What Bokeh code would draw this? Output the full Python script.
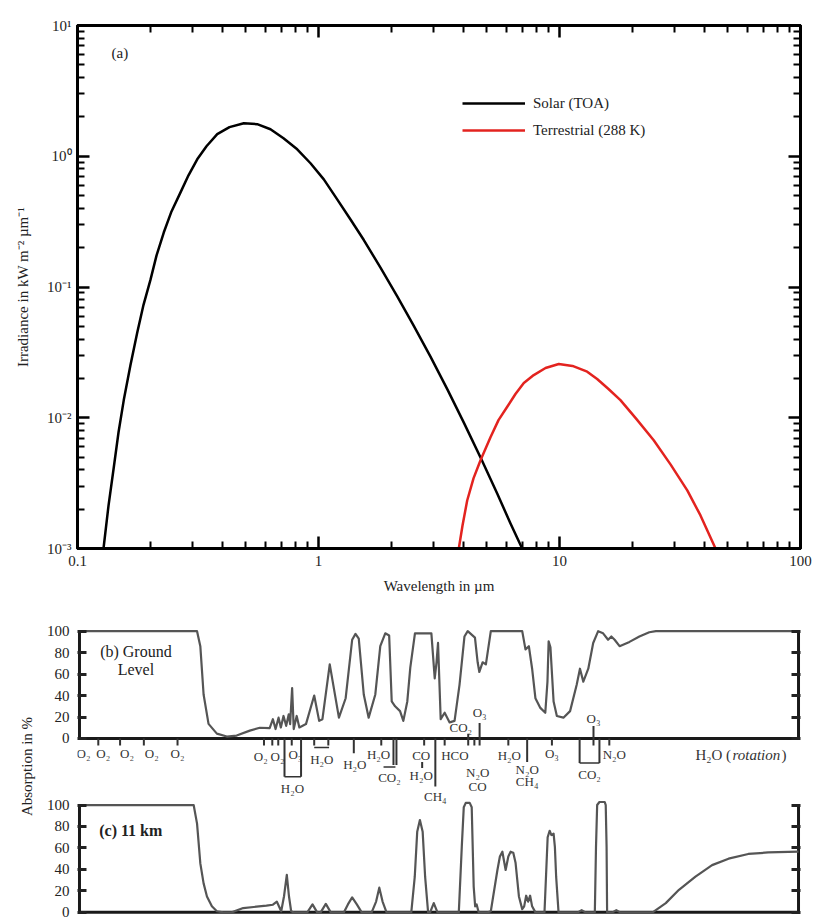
from bokeh.plotting import figure
from bokeh.models import (ColumnDataSource, FixedTicker, LogAxis, LinearAxis,
                          Legend, LegendItem, Range1d, Label)
from bokeh.layouts import column
from bokeh.embed import file_html
from bokeh.resources import INLINE
from bokeh.core.properties import value

SERIF = "Liberation Serif"

# ---------------- Panel (a) data ----------------
solar_wavelength = [0.1282, 0.1345, 0.1415, 0.1480, 0.1556, 0.1659, 0.1769, 0.1879, 0.2009,
                    0.2127, 0.228, 0.2455, 0.2676, 0.2888, 0.3139, 0.3430, 0.380, 0.4272,
                    0.490, 0.5567, 0.632, 0.7157, 0.816, 0.9265, 1.052, 1.188, 1.358,
                    1.542, 1.808, 2.122, 2.479, 2.915, 3.43, 4.009, 4.778, 5.514, 6.262, 7.0]
solar_irradiance = [0.001, 0.00213, 0.0042, 0.00775, 0.01365, 0.02535, 0.0446, 0.0731, 0.1138,
                    0.1738, 0.261, 0.3784, 0.529, 0.7147, 0.948, 1.193, 1.475, 1.669,
                    1.79, 1.76, 1.61, 1.374, 1.13, 0.884, 0.666, 0.476, 0.3285,
                    0.2286, 0.1406, 0.0847, 0.0509, 0.0293, 0.0164, 0.00918, 0.00467, 0.00263,
                    0.001556, 0.001]

terr_wavelength = [3.821, 3.959, 4.14, 4.397, 4.702, 5.172, 5.583, 6.07, 6.566, 7.11, 7.82,
                   8.75, 9.93, 11.32, 13.03, 14.33, 15.97, 17.9, 20.87, 24.6, 28.88, 33.9,
                   38.46, 44.4]
terr_irradiance = [0.001, 0.0015, 0.00233, 0.00344, 0.00473, 0.0071, 0.00959, 0.01213, 0.01518,
                   0.01844, 0.0212, 0.02403, 0.0258, 0.0249, 0.0225, 0.01978, 0.01658, 0.01365,
                   0.00976, 0.00673, 0.0044, 0.00278, 0.00179, 0.001]

irr_ticks = [0.001, 0.01, 0.1, 1.0, 10.0]
irr_tick_labels = ["10\u207b\u00b3", "10\u207b\u00b2", "10\u207b\u00b9", "10\u2070", "10\u00b9"]
wl_ticks = [0.1, 1.0, 10.0, 100.0]
wl_tick_labels = ["0.1", "1", "10", "100"]

# ---------------- Panels (b), (c) data ----------------
ground_wavelength = [0.1, 0.3094, 0.3193, 0.3295, 0.3455, 0.3743, 0.4118, 0.4527, 0.5137,
                     0.5651, 0.6215, 0.6412, 0.6579, 0.6770, 0.6920, 0.7100, 0.7285, 0.7467,
                     0.7567, 0.7713, 0.7832, 0.8058, 0.8268, 0.8810, 0.9535, 1.0, 1.032,
                     1.107, 1.209, 1.290, 1.373, 1.418, 1.463, 1.535, 1.609, 1.715, 1.799,
                     1.887, 1.959, 2.008, 2.074, 2.175, 2.245, 2.332, 2.400, 2.510, 2.939,
                     3.035, 3.088, 3.133, 3.214, 3.339, 3.502, 3.672, 3.851, 4.038, 4.167,
                     4.467, 4.584, 4.659, 4.807, 4.961, 5.202, 7.034, 7.258, 7.497, 7.736,
                     7.984, 8.372, 8.779, 8.965, 9.067, 9.224, 9.508, 9.811, 10.45, 11.14,
                     11.87, 12.25, 12.65, 13.27, 13.91, 14.59, 15.30, 16.05, 16.56, 17.09,
                     17.92, 19.71, 21.68, 23.84, 25.41, 100.0]
ground_absorption = [100, 100, 86, 41, 13.6, 4.5, 1.8, 2.7, 7.3,
                     10, 9.7, 18, 8.8, 19.4, 10.3, 21, 11.8, 22.5,
                     13.4, 47, 8.8, 21, 10.3, 13.4, 40, 16.4, 18,
                     69, 19.4, 37.5, 92, 97.5, 93, 41, 19.4, 41, 86,
                     98, 96, 34.5, 30, 25.5, 16.4, 34.5, 66, 98, 98,
                     56, 71, 89, 18, 24, 15, 16.4, 50, 95, 100,
                     94, 71, 62, 71, 69, 100, 100, 83, 86, 65,
                     37.5, 28.5, 24, 53, 90.6, 85, 34.5, 21, 19.4, 25.5,
                     50, 65, 53, 65, 89, 100, 98, 92, 95, 92,
                     86, 90, 95, 99, 100, 100]

km11_wavelength = [0.1, 0.2995, 0.3094, 0.3193, 0.3295, 0.3403, 0.3568, 0.3743, 0.3986,
                   0.4316, 0.4820, 0.6024, 0.6412, 0.6661, 0.6801, 0.6945, 0.7135, 0.7328,
                   0.7482, 0.7641, 0.7810, 0.8921, 0.9382, 0.9811, 1.0144, 1.066, 1.118,
                   1.269, 1.318, 1.373, 1.436, 1.505, 1.656, 1.728, 1.782, 1.839, 1.910,
                   2.423, 2.505, 2.565, 2.632, 2.703, 2.768, 2.848, 2.903, 3.007, 3.117,
                   3.825, 3.936, 4.012, 4.089, 4.248, 4.330, 4.413, 4.476, 4.540, 4.628,
                   5.041, 5.202, 5.362, 5.543, 5.676, 5.813, 5.999, 6.155, 6.291, 6.455,
                   6.597, 6.815, 7.034, 7.167, 7.305, 7.446, 7.589, 7.736, 7.984, 8.712,
                   8.838, 8.981, 9.154, 9.312, 9.508, 9.627, 9.746, 9.972, 11.98, 12.45,
                   12.93, 14.13, 14.29, 14.45, 14.77, 15.54, 15.69, 15.82, 15.90, 16.72,
                   17.37, 18.04, 24.62, 27.94, 31.71, 37.16, 43.59, 51.06, 61.73, 74.67, 100.0]
km11_absorption = [100, 100, 82.7, 45.6, 27, 14.8, 5.6, 1, 0,
                   0, 4, 6.2, 7.1, 10, 5.5, 1, 15, 35,
                   15, 1, 0, 0, 7.4, 0, 0, 7.9, 0,
                   0, 7.4, 13.9, 7.4, 0, 0, 10, 23, 10, 0,
                   0, 33, 75, 86, 75, 33, 0, 0, 8.6, 0,
                   0, 61, 98, 102, 102, 98, 24, 5.6, 7.4, 0,
                   0, 1, 19.4, 39.5, 52, 56.5, 39.5, 52, 56.5, 55.6,
                   46.3, 14.8, 3, 5.6, 15.5, 10, 15.5, 5.6, 0, 0,
                   33, 70, 76, 72, 73.4, 61, 33, 0, 0, 2,
                   0, 0, 61, 100, 102.8, 102.8, 100, 61, 0, 0,
                   2, 0, 0, 8.6, 21, 33.3, 44, 50, 54.4, 55.8, 56.5]

abs_ticks = [0, 20, 40, 60, 80, 100]
abs_tick_labels = ["0", "20", "40", "60", "80", "100"]

# band markers below panel (b): label, wavelength (um), vertical position
band_labels = ["O\u2082", "O\u2082", "O\u2082", "O\u2082", "O\u2082",
               "O\u2082", "O\u2082", "O\u2083", "H\u2082O", "H\u2082O", "H\u2082O", "H\u2082O",
               "CO\u2082", "CO", "H\u2082O", "CH\u2084", "HCO", "CO\u2082", "O\u2083",
               "N\u2082O", "CO", "H\u2082O", "N\u2082O", "CH\u2084", "O\u2083", "CO\u2082",
               "O\u2083", "N\u2082O"]
band_label_wl = [0.1039, 0.1256, 0.1579, 0.2003, 0.2565,
                 0.5705, 0.6705, 0.7959, 0.7735, 1.026, 1.409, 1.770,
                 1.965, 2.665, 2.665, 3.053, 3.683, 3.899, 4.671,
                 4.584, 4.584, 6.214, 7.376, 7.376, 9.357, 13.43,
                 13.95, 17.04]
band_label_y = [148.2, 148.2, 148.2, 148.2, 148.2,
                145.5, 145.5, 147.3, 115.5, 142.7, 138.2, 147.3,
                125.5, 146.4, 127.3, 108.2, 146.4, 171.8, 186.4,
                130.0, 117.3, 146.4, 132.7, 121.8, 148.2, 128.2,
                180.9, 147.3]

# marker strokes (wavelength um, from, to)
short_tick_wl = [0.1198, 0.1477, 0.1856, 0.2565, 0.5886, 0.6375, 0.6750, 0.7684, 0.9535,
                 1.092, 1.816, 2.742, 3.339, 4.442, 6.155, 9.357, 16.24]
long_tick_wl = [1.395, 0.7168, 0.8404, 2.042, 2.101, 3.053, 7.376, 12.21, 14.77, 2.690,
                4.187, 4.671, 13.95]
long_tick_top = [162, 162, 162, 162, 162, 162, 162, 162, 162, 140, 166.4, 176.4, 173.6]
long_tick_bot = [148.2, 126.4, 126.4, 137.3, 137.3, 117.3, 140, 139.1, 139.1, 134.5,
                 155.5, 155.5, 155.5]
brace_wl0 = [0.7168, 0.9535, 1.856, 12.21]
brace_wl1 = [0.8404, 1.100, 2.081, 14.77]
brace_y = [126.4, 153.6, 135.5, 139.1]

OFF = 162  # vertical offset of panel (b) above panel (c)

# ======================= Figure (a) =======================
pa = figure(width=814, height=612, x_axis_type="log", y_axis_type="log",
            x_range=Range1d(0.1, 100), y_range=Range1d(0.001, 10),
            output_backend="svg", toolbar_location=None,
            min_border_left=77, min_border_right=14, min_border_top=25, min_border_bottom=64)
pa.grid.visible = False
pa.outline_line_color = "black"
pa.outline_line_width = 3
pa.background_fill_color = "white"
pa.border_fill_color = "white"

def minor_log(ticks):
    out = []
    for t in ticks[:-1]:
        out += [t * k for k in range(2, 10)]
    return out

def style_log_axis(ax, ticks, labels, show):
    ax.ticker = FixedTicker(ticks=ticks, minor_ticks=minor_log(ticks))
    ax.major_tick_in = 12
    ax.major_tick_out = 0
    ax.minor_tick_in = 7
    ax.minor_tick_out = 0
    ax.major_tick_line_width = 2.5
    ax.minor_tick_line_width = 2
    ax.axis_line_width = 3
    ax.axis_line_color = "black"
    ax.major_tick_line_color = "black"
    ax.minor_tick_line_color = "black"
    ax.major_label_text_font = SERIF
    ax.major_label_text_color = "#222222"
    ax.axis_label_text_font = SERIF
    ax.axis_label_text_font_style = "normal"
    ax.axis_label_text_font_size = "15px"
    ax.axis_label_text_color = "#222222"
    if show:
        ax.major_label_overrides = {float(t): l for t, l in zip(ticks, labels)}
        ax.major_label_text_font_size = "15px"
        ax.major_label_standoff = 7
    else:
        ax.major_label_overrides = {float(t): "" for t in ticks}
        ax.major_label_text_font_size = "1px"
        ax.major_label_standoff = 0

style_log_axis(pa.xaxis[0], wl_ticks, wl_tick_labels, True)
style_log_axis(pa.yaxis[0], irr_ticks, irr_tick_labels, True)
pa.xaxis[0].axis_label = "Wavelength in \u00b5m"
pa.xaxis[0].axis_label_standoff = 9
pa.yaxis[0].axis_label = "Irradiance in kW m\u207b\u00b2 \u00b5m\u207b\u00b9"
pa.yaxis[0].axis_label_standoff = 13
pa.yaxis[0].major_label_standoff = 6

top_ax = LogAxis()
style_log_axis(top_ax, wl_ticks, wl_tick_labels, False)
pa.add_layout(top_ax, "above")
right_ax = LogAxis()
style_log_axis(right_ax, irr_ticks, irr_tick_labels, False)
pa.add_layout(right_ax, "right")

solar_src = ColumnDataSource(dict(x=solar_wavelength, y=solar_irradiance))
terr_src = ColumnDataSource(dict(x=terr_wavelength, y=terr_irradiance))
r_solar = pa.line("x", "y", source=solar_src, line_color="black", line_width=2.5,
                  line_join="round")
r_terr = pa.line("x", "y", source=terr_src, line_color="#e3231f", line_width=2.5,
                 line_join="round")

legend = Legend(items=[LegendItem(label="Solar (TOA)", renderers=[r_solar]),
                       LegendItem(label="Terrestrial (288 K)", renderers=[r_terr])],
                location=(385, 408), glyph_width=63, glyph_height=20, label_height=20,
                spacing=7, padding=0, margin=0, label_standoff=8,
                border_line_color=None, background_fill_alpha=0,
                label_text_font=SERIF, label_text_font_size="15px",
                label_text_color="#222222")
pa.add_layout(legend)

pa.add_layout(Label(x=0.1384, y=6.17, text="(a)", text_font=SERIF, text_font_size="15px",
                    text_baseline="middle", text_color="#222222"))

# ======================= Figure (b)+(c) =======================
pb = figure(width=814, height=309, x_axis_type="log", x_axis_location=None,
            x_range=Range1d(0.098115, 101.92), y_range=Range1d(-2, 273.8),
            output_backend="svg", toolbar_location=None,
            min_border_left=76, min_border_right=8, min_border_top=6, min_border_bottom=7)
pb.grid.visible = False
pb.outline_line_color = None
pb.background_fill_color = "white"
pb.border_fill_color = "white"

both_ticks = abs_ticks + [t + OFF for t in abs_ticks]
both_labels = abs_tick_labels + abs_tick_labels

def style_lin_axis(ax, show):
    ax.ticker = FixedTicker(ticks=both_ticks)
    ax.axis_line_color = None
    ax.major_tick_in = 9
    ax.major_tick_out = 0
    ax.minor_tick_in = 0
    ax.minor_tick_out = 0
    ax.major_tick_line_width = 3
    ax.major_tick_line_color = "#222222"
    ax.major_label_text_font = SERIF
    ax.major_label_text_color = "#222222"
    if show:
        ax.major_label_overrides = {t: l for t, l in zip(both_ticks, both_labels)}
        ax.major_label_text_font_size = "15px"
        ax.major_label_standoff = 8
    else:
        ax.major_label_overrides = {t: "" for t in both_ticks}
        ax.major_label_text_font_size = "1px"
        ax.major_label_standoff = 0

style_lin_axis(pb.yaxis[0], True)
pb.yaxis[0].axis_label = "Absorption in %"
pb.yaxis[0].axis_label_text_font = SERIF
pb.yaxis[0].axis_label_text_font_style = "normal"
pb.yaxis[0].axis_label_text_font_size = "15px"
pb.yaxis[0].axis_label_text_color = "#222222"
pb.yaxis[0].axis_label_standoff = 9
rax = LinearAxis()
style_lin_axis(rax, False)
pb.add_layout(rax, "right")

# panel spines (edges of the 0-100 boxes)
x_lo, x_hi = 0.1, 100.0
spine_src = ColumnDataSource(dict(
    x0=[x_lo, x_hi, x_lo, x_lo, x_hi, x_lo],
    y0=[OFF, OFF, OFF, 0, 0, 0],
    x1=[x_lo, x_hi, x_hi, x_lo, x_hi, x_hi],
    y1=[OFF + 100, OFF + 100, OFF, 100, 100, 0]))
pb.segment("x0", "y0", "x1", "y1", source=spine_src, line_color="#1a1a1a", line_width=3)

g_src = ColumnDataSource(dict(x=ground_wavelength, y=[v + OFF for v in ground_absorption]))
c_src = ColumnDataSource(dict(x=km11_wavelength, y=km11_absorption))
pb.line("x", "y", source=g_src, line_color="#555555", line_width=2.2, line_join="round")
pb.line("x", "y", source=c_src, line_color="#555555", line_width=2.2, line_join="round")

# band markers
pb.segment(x0=short_tick_wl, y0=[OFF] * len(short_tick_wl), x1=short_tick_wl,
           y1=[OFF - 6.5] * len(short_tick_wl), line_color="#333333", line_width=2)
pb.segment(x0=long_tick_wl, y0=long_tick_top, x1=long_tick_wl, y1=long_tick_bot,
           line_color="#333333", line_width=2)
pb.segment(x0=brace_wl0, y0=brace_y, x1=brace_wl1, y1=brace_y,
           line_color="#333333", line_width=1.5)

pb.text(x=band_label_wl, y=band_label_y, text=band_labels, text_font=value(SERIF),
        text_font_size="13px", text_align="center", text_baseline="middle",
        text_color="#333333")

# H2O (rotation)
rot_x = 37.16
rot_y = 146.4
pb.text(x=[rot_x], y=[rot_y], text=["H\u2082O ("], text_font=value(SERIF),
        text_font_size="15px", text_align="left", text_baseline="middle", text_color="#333333")
pb.text(x=[rot_x], y=[rot_y], text=["rotation"], text_font=value(SERIF),
        text_font_style="italic", x_offset=37,
        text_font_size="15px", text_align="left", text_baseline="middle", text_color="#333333")
pb.text(x=[rot_x], y=[rot_y], text=[")"], text_font=value(SERIF), x_offset=86,
        text_font_size="15px", text_align="left", text_baseline="middle", text_color="#333333")

# panel titles
pb.text(x=[0.1720, 0.1720], y=[243.5, 226.0], text=["(b) Ground", "Level"],
        text_font=value(SERIF), text_font_size="16px", text_align="center",
        text_baseline="middle", text_color="#222222")
pb.text(x=[0.1209], y=[76.0], text=["(c) 11 km"], text_font=value(SERIF),
        text_font_size="16px", text_font_style="bold", text_align="left",
        text_baseline="middle", text_color="#222222")

layout = column(pa, pb, spacing=0)
open("out.html", "w").write(file_html(layout, INLINE))
